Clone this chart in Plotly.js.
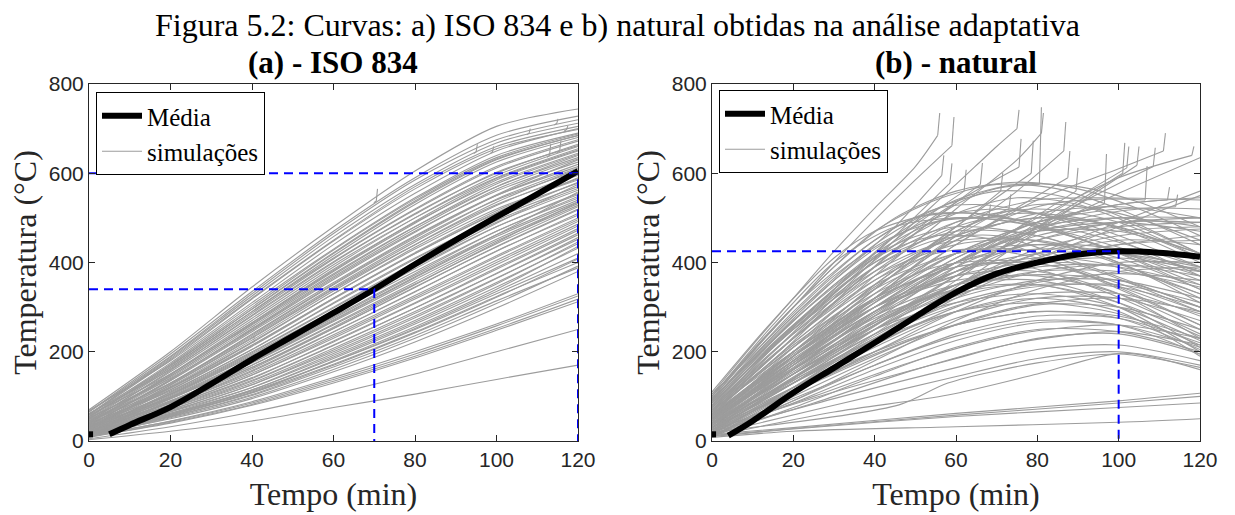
<!DOCTYPE html>
<html>
<head>
<meta charset="utf-8">
<script src="https://cdn.plot.ly/plotly-3.0.1.min.js"></script>
<style>html,body{margin:0;padding:0;background:#fff}#chart{width:1235px;height:515px}</style>
</head>
<body>
<div id="chart"></div>
<script>
// ---------- Text ----------
const TITLE = 'Figura 5.2: Curvas: a) ISO 834 e b) natural obtidas na an\u00e1lise adaptativa';
const NAME_MEAN = 'M\u00e9dia';
const NAME_SIM = 'simula\u00e7\u00f5es';
const X_TITLE = 'Tempo (min)';
const Y_TITLE = 'Temperatura (\u00b0C)';
const PANEL_TITLES = ['(a) - ISO 834', '(b) - natural'];

// ---------- Data: panel (a) ISO 834 ----------
const timeA = [0, 20, 40, 60, 80, 100, 120];
const simA = [
  [70, 200, 345, 480, 605, 705, 744],
  [66, 195, 335, 470, 590, 685, 728],
  [65, 190, 330, 465, 585, 675, 720],
  [60, 188, 325, 458, 575, 668, 712],
  [60, 185, 320, 450, 570, 660, 705],
  [68, 180, 310, 440, 555, 650, 700],
  [58, 182, 318, 448, 565, 655, 698],
  [55, 175, 305, 430, 545, 640, 690],
  [52, 172, 300, 428, 542, 635, 688],
  [60, 170, 295, 420, 535, 630, 685],
  [54, 168, 296, 422, 538, 632, 684],
  [55, 165, 290, 415, 530, 625, 680],
  [50, 165, 290, 410, 520, 615, 675],
  [48, 162, 286, 408, 518, 612, 672],
  [62, 160, 280, 400, 510, 600, 665],
  [44, 158, 282, 402, 508, 602, 662],
  [42, 150, 270, 390, 500, 595, 660],
  [45, 155, 275, 395, 500, 590, 655],
  [40, 148, 265, 382, 492, 588, 652],
  [50, 145, 262, 380, 488, 585, 650],
  [58, 150, 265, 385, 490, 580, 645],
  [38, 142, 256, 372, 480, 576, 642],
  [36, 138, 252, 368, 475, 570, 640],
  [40, 145, 260, 375, 480, 570, 635],
  [34, 136, 248, 362, 468, 564, 632],
  [45, 128, 240, 352, 458, 552, 630],
  [52, 140, 250, 365, 470, 560, 625],
  [32, 130, 238, 350, 455, 550, 620],
  [35, 135, 245, 355, 460, 550, 615],
  [30, 126, 232, 342, 446, 542, 612],
  [30, 122, 226, 336, 440, 535, 610],
  [48, 130, 235, 345, 450, 540, 605],
  [28, 120, 222, 330, 434, 528, 600],
  [30, 125, 230, 340, 440, 530, 595],
  [40, 115, 212, 318, 420, 512, 590],
  [27, 115, 214, 320, 422, 516, 588],
  [45, 120, 220, 330, 430, 520, 585],
  [25, 110, 205, 308, 408, 502, 580],
  [28, 118, 215, 320, 420, 510, 578],
  [26, 104, 192, 292, 392, 488, 575],
  [40, 112, 205, 310, 410, 500, 570],
  [24, 106, 198, 298, 398, 494, 566],
  [25, 108, 200, 300, 400, 490, 562],
  [34, 96, 178, 272, 368, 462, 558],
  [38, 105, 195, 292, 390, 480, 555],
  [22, 102, 190, 288, 386, 480, 552],
  [22, 100, 185, 285, 380, 470, 548],
  [20, 98, 182, 278, 375, 470, 544],
  [35, 98, 180, 275, 372, 462, 540],
  [19, 94, 176, 270, 366, 458, 536],
  [20, 88, 165, 255, 350, 445, 535],
  [20, 95, 175, 268, 362, 452, 532],
  [18, 90, 170, 262, 356, 448, 528],
  [32, 90, 170, 260, 352, 442, 525],
  [17, 86, 162, 252, 344, 436, 520],
  [18, 88, 165, 252, 345, 435, 518],
  [30, 85, 158, 245, 335, 425, 510],
  [16, 82, 156, 244, 334, 426, 506],
  [15, 82, 152, 238, 326, 415, 500],
  [15, 78, 148, 234, 322, 412, 496],
  [28, 80, 148, 230, 318, 405, 492],
  [14, 74, 140, 224, 310, 400, 486],
  [14, 76, 142, 222, 308, 395, 482],
  [13, 70, 134, 214, 298, 388, 476],
  [25, 74, 136, 215, 298, 385, 472],
  [12, 66, 126, 204, 286, 376, 466],
  [12, 70, 130, 208, 290, 375, 462],
  [11, 62, 120, 196, 276, 364, 456],
  [22, 68, 126, 200, 280, 365, 452],
  [10, 60, 114, 188, 266, 352, 446],
  [12, 65, 120, 192, 270, 355, 442],
  [10, 56, 108, 180, 256, 340, 436],
  [20, 62, 115, 185, 262, 345, 432],
  [10, 58, 110, 178, 252, 335, 420],
  [16, 60, 112, 178, 250, 330, 410],
  [18, 55, 104, 170, 242, 322, 408],
  [14, 58, 108, 172, 244, 324, 400],
  [10, 52, 98, 160, 230, 308, 392],
  [12, 54, 102, 166, 236, 314, 388],
  [15, 50, 95, 155, 222, 298, 380],
  [10, 45, 88, 142, 200, 262, 330],
  [12, 44, 85, 138, 195, 258, 325],
  [8, 42, 82, 134, 190, 252, 318],
  [10, 40, 80, 130, 186, 248, 312],
  [5, 32, 65, 105, 150, 200, 250],
  [3, 22, 45, 75, 105, 138, 170]
];
const hookTimeA = [70.5, 95, 99, 108, 113, 114.8, 115.5, 117.2];
const hookBaseA = [538, 648, 648, 690, 640, 712, 650, 698];
const hookTopA  = [565, 665, 660, 700, 665, 722, 672, 706];
const meanTimeA = [0, 1, 2, 5, 10, 20, 30, 40, 50, 60, 70, 80, 90, 100, 110, 120];
const meanTempA = [15, 15, null, 15, 36, 76, 128, 183, 235, 287, 340, 396, 450, 502, 553, 605];
const refTimeA = [70, 120];
const refTempA = [340, 600];

// ---------- Data: panel (b) natural ----------
const simB = [
  [[0,100],[20,300],[40,470],[55,540],[70,575],[85,565],[100,520],[120,440]],
  [[0,90],[20,280],[40,440],[55,520],[70,560],[85,550],[100,505],[120,420]],
  [[0,80],[20,260],[40,410],[60,510],[75,545],[90,530],[105,480],[120,420]],
  [[0,70],[20,240],[40,390],[60,480],[75,510],[90,500],[105,460],[120,400]],
  [[0,60],[20,220],[40,360],[60,460],[80,500],[95,490],[120,420]],
  [[0,85],[20,250],[40,380],[55,440],[70,455],[85,440],[120,330]],
  [[0,75],[20,230],[40,360],[55,420],[65,430],[80,410],[120,290]],
  [[0,65],[20,210],[40,330],[55,390],[70,405],[85,390],[120,280]],
  [[0,55],[20,200],[40,320],[60,390],[75,400],[90,380],[120,260]],
  [[0,50],[20,180],[40,300],[60,380],[80,410],[95,400],[120,330]],
  [[0,45],[20,170],[40,290],[60,370],[80,400],[100,390],[120,350]],
  [[0,40],[20,160],[40,270],[60,350],[80,390],[100,395],[120,370]],
  [[0,35],[20,150],[40,260],[60,340],[80,380],[100,380],[120,345]],
  [[0,30],[20,140],[40,240],[60,320],[80,360],[100,360],[120,320]],
  [[0,25],[20,130],[40,230],[60,310],[80,350],[100,345],[120,300]],
  [[0,20],[20,120],[40,210],[60,290],[80,330],[100,330],[120,285]],
  [[0,15],[20,110],[40,200],[60,275],[80,320],[100,320],[120,270]],
  [[0,10],[20,100],[40,185],[60,260],[80,305],[100,300],[120,250]],
  [[0,30],[20,120],[40,200],[60,260],[80,290],[100,280],[120,230]],
  [[0,20],[20,95],[40,170],[60,240],[80,280],[100,275],[120,220]],
  [[0,15],[20,85],[40,160],[60,225],[80,265],[100,260],[120,210]],
  [[0,10],[20,75],[40,145],[60,210],[80,250],[100,245],[120,200]],
  [[0,25],[30,110],[58,180],[80,230],[100,240],[120,195]],
  [[0,20],[30,95],[58,160],[80,205],[100,215],[120,180]],
  [[0,15],[30,80],[58,140],[80,185],[100,200],[120,170]],
  [[0,10],[30,65],[58,103],[80,150],[101,197],[120,160]],
  [[0,20],[46,81],[58,130],[80,175],[100,195],[120,165]],
  [[0,60],[20,180],[40,290],[60,380],[80,470],[100,555],[120,635]],
  [[0,50],[20,160],[40,260],[60,350],[80,420],[100,490],[120,560]],
  [[0,40],[20,150],[40,250],[60,340],[80,410],[100,480],[120,550]],
  [[0,70],[20,200],[40,320],[60,420],[80,490],[100,530],[120,545]],
  [[0,55],[20,185],[40,300],[60,400],[80,470],[100,500],[120,500]],
  [[0,45],[20,170],[40,280],[60,380],[80,450],[100,480],[120,490]],
  [[0,35],[20,150],[40,260],[60,350],[80,420],[100,460],[120,475]],
  [[0,25],[20,130],[40,235],[60,330],[80,400],[100,440],[120,460]],
  [[0,95],[15,250],[30,390],[45,500],[60,560],[75,580],[90,565],[105,520],[120,460]],
  [[0,70],[15,210],[30,340],[45,460],[60,540],[75,575],[90,570],[105,535],[120,480]],
  [[0,65],[20,230],[40,380],[60,490],[80,540],[95,545],[120,540]],
  [[0,50],[20,200],[40,350],[60,470],[80,530],[100,510],[120,450]],
  [[0,100],[15,260],[30,400],[45,480],[60,500],[75,490],[95,440],[120,360]],
  [[0,110],[15,270],[30,410],[40,470],[55,510],[70,505],[90,460],[120,380]],
  [[0,90],[20,290],[40,450],[55,520],[65,530],[80,510],[100,450],[120,370]],
  [[0,80],[20,270],[40,420],[55,490],[70,500],[90,470],[120,390]],
  [[0,75],[20,250],[40,390],[55,450],[70,460],[90,400],[120,300]],
  [[0,60],[20,220],[40,350],[60,420],[75,430],[95,380],[120,290]],
  [[0,85],[20,270],[40,410],[55,460],[70,450],[90,380],[120,260]],
  [[0,55],[20,200],[40,320],[60,390],[75,395],[95,340],[120,240]],
  [[0,45],[20,180],[40,300],[60,370],[80,380],[100,330],[120,230]],
  [[0,35],[20,160],[40,280],[60,350],[80,360],[100,310],[120,210]],
  [[0,30],[20,140],[40,250],[60,330],[80,350],[100,300],[120,200]],
  [[0,40],[20,130],[40,220],[60,290],[80,320],[100,290],[120,190]],
  [[0,60],[20,190],[40,310],[60,400],[80,440],[100,430],[120,380]],
  [[0,50],[20,190],[40,320],[60,420],[80,470],[100,470],[120,420]],
  [[0,30],[20,160],[40,290],[60,400],[80,470],[100,490],[120,470]],
  [[0,20],[20,140],[40,260],[60,370],[80,450],[100,490],[120,490]],
  [[0,15],[20,120],[40,230],[60,330],[80,410],[100,450],[120,440]],
  [[0,40],[20,170],[40,300],[60,410],[80,480],[100,500],[120,480]],
  [[0,10],[20,90],[40,180],[60,270],[80,340],[100,380],[120,390]],
  [[0,25],[20,110],[40,200],[60,290],[80,360],[100,400],[120,400]],
  [[0,105],[15,240],[30,370],[45,460],[60,500],[80,480],[100,420],[120,340]],
  [[0,95],[15,225],[30,350],[45,440],[60,480],[80,460],[100,400],[120,320]],
  [[0,88],[20,260],[40,400],[60,470],[80,460],[100,400],[120,310]],
  [[0,78],[20,240],[40,370],[60,440],[80,450],[100,410],[120,340]],
  [[0,68],[20,215],[40,340],[60,420],[80,440],[100,420],[120,370]],
  [[0,58],[20,195],[40,315],[60,400],[80,430],[100,420],[120,380]],
  [[0,48],[20,175],[40,290],[60,380],[80,420],[100,420],[120,390]],
  [[0,38],[20,155],[40,265],[60,350],[80,400],[100,410],[120,385]],
  [[0,28],[20,135],[40,240],[60,325],[80,380],[100,395],[120,380]],
  [[0,18],[20,115],[40,215],[60,300],[80,355],[100,375],[120,360]],
  [[0,62],[20,190],[40,300],[60,360],[80,370],[100,330],[120,250]],
  [[0,52],[20,170],[40,275],[60,340],[80,350],[100,310],[120,235]],
  [[0,42],[20,150],[40,250],[60,310],[80,330],[100,300],[120,225]],
  [[0,32],[20,130],[40,225],[60,290],[80,310],[100,285],[120,215]],
  [[0,22],[20,110],[40,195],[60,260],[80,290],[100,275],[120,205]],
  [[0,12],[20,90],[40,170],[60,235],[80,270],[100,260],[120,195]],
  [[0,70],[20,230],[40,370],[60,460],[80,500],[100,480],[120,410]],
  [[0,80],[20,255],[40,400],[60,490],[80,520],[100,490],[120,410]],
  [[0,92],[20,280],[40,430],[55,500],[70,520],[90,490],[120,390]],
  [[0,100],[20,300],[40,450],[50,500],[65,510],[85,470],[120,350]],
  [[0,35],[20,140],[40,250],[60,350],[80,430],[100,470],[120,480]],
  [[0,25],[20,120],[40,220],[60,320],[80,400],[100,440],[120,450]],
  [[0,45],[20,165],[40,285],[60,390],[80,460],[100,490],[120,500]],
  [[0,55],[20,180],[40,310],[60,420],[80,490],[100,520],[120,520]],
  [[0,65],[20,210],[40,345],[60,450],[80,510],[100,525],[120,500]],
  [[0,20],[25,100],[50,180],[75,240],[100,260],[120,230]],
  [[0,15],[25,85],[50,160],[75,220],[100,245],[120,215]],
  [[0,30],[25,130],[50,230],[75,300],[100,320],[120,290]],
  [[0,40],[25,160],[50,270],[75,340],[100,350],[120,310]],
  [[0,50],[25,190],[50,310],[75,370],[100,360],[120,300]],
  [[0,15],[20,30],[60,62],[100,90],[120,107]],
  [[0,12],[20,28],[60,58],[100,85],[120,100]],
  [[0,10],[20,27],[60,55],[100,75],[120,85]],
  [[0,8],[20,22],[60,32],[100,42],[120,50]]
];
const simBHook = [
  [[0,105],[10,215],[20,320],[30,425],[40,522],[50,615],[55.5,685]],
  [[0,95],[10,200],[20,300],[30,400],[40,495],[50,585],[59,662]],
  [[0,90],[15,230],[30,360],[45,480],[56.5,595]],
  [[0,80],[15,215],[30,340],[45,460],[58.5,578]],
  [[0,70],[15,190],[30,320],[45,450],[60,575],[70,660],[75,700]],
  [[0,60],[15,180],[30,310],[45,430],[60,530],[70,566],[80.5,575]],
  [[0,50],[20,210],[40,370],[60,520],[75,630],[81,690]],
  [[0,85],[15,210],[30,330],[45,440],[60,535],[75.5,614]],
  [[0,40],[20,190],[40,340],[60,480],[78.5,600]],
  [[0,30],[20,170],[40,320],[60,460],[75,560],[86.5,650]],
  [[0,45],[20,180],[40,320],[60,440],[87.5,590]],
  [[0,20],[20,140],[40,270],[60,390],[89.5,560]],
  [[0,35],[20,160],[40,290],[60,400],[80,480],[96.5,531]],
  [[0,25],[20,130],[40,250],[60,370],[80,480],[101,600]],
  [[0,15],[20,120],[40,240],[60,360],[80,490],[102,612]],
  [[0,10],[20,110],[40,225],[60,345],[80,470],[104.5,618]],
  [[0,30],[30,200],[60,370],[90,530],[108.5,615]],
  [[0,55],[20,190],[40,330],[60,450],[80,525],[95,542],[106.5,540]],
  [[0,45],[20,175],[40,300],[60,410],[80,490],[100,530],[112,540]],
  [[0,35],[20,160],[40,290],[60,400],[80,475],[100,515],[114,525]],
  [[0,75],[15,200],[30,330],[45,450],[62,560]],
  [[0,65],[20,230],[40,390],[55,500],[66,575]],
  [[0,50],[20,200],[40,350],[60,480],[71,560]],
  [[0,60],[20,200],[40,340],[60,470],[73,520]],
  [[0,55],[20,190],[40,320],[55,430],[68,500]],
  [[0,40],[20,175],[40,310],[60,440],[80,540],[100,610],[111,650]],
  [[0,28],[20,150],[40,280],[60,400],[80,500],[100,590],[118,640]]
];
const hookTopB = [735, 726, 640, 622, 742, 748, 735, 677, 673, 715, 650, 612, 643, 668, 660, 660, 657, 616, 569, 552, 608, 623, 601, 553, 530, 690, 660];
const meanTimeB = [0, 1, 2, 4, 10, 20, 30, 40, 50, 60, 70, 80, 90, 100, 110, 120];
const meanTempB = [15, 15, null, 12, 45, 108, 164, 220, 278, 333, 375, 400, 418, 425, 422, 413];
const refTimeB = [100];
const refTempB = [425];

// ---------- Build traces ----------
const nfc = s => s.normalize('NFC');
const GRAY = '#9c9c9c';
const traces = [];
function grayTrace(x, y, xa, ya, legend, showLeg, shape) {
  return {x: x, y: y, xaxis: xa, yaxis: ya, type: 'scatter', mode: 'lines',
    line: {color: GRAY, width: 1.1, shape: shape || 'linear', smoothing: 0.8},
    name: nfc(NAME_SIM), legend: legend, showlegend: !!showLeg, hoverinfo: 'skip'};
}
simA.forEach((row, i) => traces.push(grayTrace(timeA, row, 'x', 'y', 'legend', i === 0, 'spline')));
hookTimeA.forEach((t, i) => traces.push(grayTrace([t - 0.6, t, t + 0.3], [hookBaseA[i] - 4, hookBaseA[i], hookTopA[i]], 'x', 'y', 'legend', false)));
simB.forEach((c, i) => traces.push(grayTrace(c.map(p => p[0]), c.map(p => p[1]), 'x2', 'y2', 'legend2', i === 0, 'spline')));
simBHook.forEach((c, i) => {
  traces.push(grayTrace(c.map(p => p[0]), c.map(p => p[1]), 'x2', 'y2', 'legend2', false, 'spline'));
  const last = c[c.length - 1];
  traces.push(grayTrace([last[0], last[0] + 0.3, last[0] + 0.5], [last[1], last[1] + (hookTopB[i] - last[1]) * 0.6, hookTopB[i]], 'x2', 'y2', 'legend2', false));
});
function meanTrace(x, y, xa, ya, legend) {
  return {x: x, y: y, xaxis: xa, yaxis: ya, type: 'scatter', mode: 'lines',
    line: {color: '#000000', width: 6, shape: 'spline', smoothing: 1},
    name: nfc(NAME_MEAN), legend: legend, showlegend: true, connectgaps: false, hoverinfo: 'skip', legendrank: 1};
}
traces.push(meanTrace(meanTimeA, meanTempA, 'x', 'y', 'legend'));
traces.push(meanTrace(meanTimeB, meanTempB, 'x2', 'y2', 'legend2'));
function refTraces(ts, vs, xa, ya) {
  ts.forEach((t, i) => {
    traces.push({x: [0, t, t], y: [vs[i], vs[i], 0], xaxis: xa, yaxis: ya, type: 'scatter', mode: 'lines',
      line: {color: '#0000ff', width: 2, dash: '9px,6px'}, showlegend: false, hoverinfo: 'skip'});
  });
}
refTraces(refTimeA, refTempA, 'x', 'y');
refTraces(refTimeB, refTempB, 'x2', 'y2');

// ---------- Layout ----------
const SERIF = '"Liberation Serif", "Times New Roman", Times, serif';
const SANS = '"Liberation Sans", Arial, Helvetica, sans-serif';
const W = 1235, H = 515;
const yDom = [1 - 441 / H, 1 - 84 / H];
function xAx(dom, anchor) {
  return {domain: dom, anchor: anchor, range: [0, 120], tickvals: [0, 20, 40, 60, 80, 100, 120],
    ticks: 'inside', ticklen: 6, tickcolor: '#262626', showline: true, linecolor: '#262626', linewidth: 1,
    mirror: 'ticks', showgrid: false, zeroline: false,
    tickfont: {family: SANS, size: 21, color: '#262626'},
    title: {text: X_TITLE, font: {family: SERIF, size: 32, color: '#262626'}, standoff: 12}};
}
function yAx(anchor) {
  return {domain: yDom, anchor: anchor, range: [0, 800], tickvals: [0, 200, 400, 600, 800],
    ticks: 'inside', ticklen: 6, tickcolor: '#262626', showline: true, linecolor: '#262626', linewidth: 1,
    mirror: 'ticks', showgrid: false, zeroline: false,
    tickfont: {family: SANS, size: 21, color: '#262626'},
    title: {text: nfc(Y_TITLE), font: {family: SERIF, size: 32, color: '#262626'}, standoff: 2}};
}
const legendStyle = (x, y) => ({x: x, y: y, xanchor: 'left', yanchor: 'top', xref: 'paper', yref: 'paper',
  bgcolor: '#ffffff', bordercolor: '#000000', borderwidth: 1, traceorder: 'normal',
  font: {family: SERIF, size: 25, color: '#000000'}, itemwidth: 40, tracegroupgap: 0});
const layout = {
  width: W, height: H,
  margin: {l: 0, r: 0, t: 0, b: 0},
  paper_bgcolor: '#ffffff', plot_bgcolor: '#ffffff',
  font: {family: SERIF},
  title: {text: nfc(TITLE),
    x: 0.5, xanchor: 'center', y: 1 - 25 / H, yanchor: 'middle',
    font: {family: SERIF, size: 32, color: '#000000'}},
  xaxis: xAx([89 / W, 578 / W], 'y'),
  yaxis: yAx('x'),
  xaxis2: xAx([712 / W, 1200 / W], 'y2'),
  yaxis2: yAx('x2'),
  legend: legendStyle(96 / W, 1 - 92 / H),
  legend2: legendStyle(719 / W, 1 - 90 / H),
  showlegend: true,
  annotations: [
    {text: '<b>' + PANEL_TITLES[0] + '</b>', x: (89 + 578) / 2 / W, y: 1 - 62 / H, xref: 'paper', yref: 'paper',
      xanchor: 'center', yanchor: 'middle', showarrow: false, font: {family: SERIF, size: 31, color: '#000000'}},
    {text: '<b>' + PANEL_TITLES[1] + '</b>', x: (712 + 1200) / 2 / W, y: 1 - 62 / H, xref: 'paper', yref: 'paper',
      xanchor: 'center', yanchor: 'middle', showarrow: false, font: {family: SERIF, size: 31, color: '#000000'}}
  ]
};
Plotly.newPlot('chart', traces, layout, {staticPlot: true, displayModeBar: false});
</script>
</body>
</html>
